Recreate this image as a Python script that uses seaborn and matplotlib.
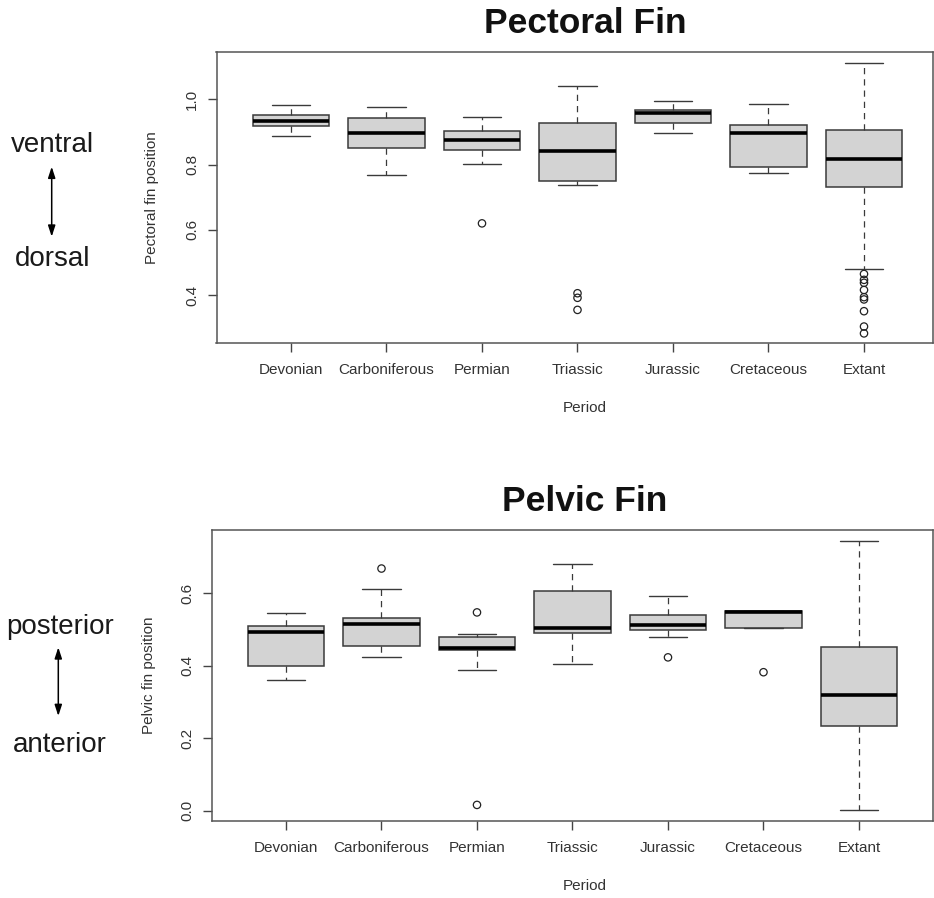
import matplotlib
matplotlib.use("Agg")
import matplotlib.pyplot as plt
import seaborn as sns
import pandas as pd

periods = ["Devonian", "Carboniferous", "Permian", "Triassic", "Jurassic", "Cretaceous", "Extant"]

# Pectoral fin: five-number summaries
pect_whislo = [0.888, 0.768, 0.803, 0.737, 0.897, 0.775, 0.479]
pect_q1 = [0.919, 0.850, 0.845, 0.750, 0.927, 0.792, 0.731]
pect_med = [0.934, 0.898, 0.874, 0.843, 0.957, 0.898, 0.817]
pect_q3 = [0.952, 0.944, 0.903, 0.926, 0.967, 0.920, 0.905]
pect_whishi = [0.982, 0.975, 0.947, 1.042, 0.994, 0.986, 1.112]
pect_out_period = ["Permian", "Triassic", "Triassic", "Triassic",
                   "Extant", "Extant", "Extant", "Extant", "Extant",
                   "Extant", "Extant", "Extant", "Extant"]
pect_out_value = [0.620, 0.406, 0.392, 0.355,
                  0.465, 0.447, 0.438, 0.416, 0.394, 0.387, 0.351, 0.304, 0.283]

# Pelvic fin
pelv_whislo = [0.361, 0.424, 0.387, 0.404, 0.478, 0.505, 0.001]
pelv_q1 = [0.400, 0.454, 0.443, 0.491, 0.498, 0.505, 0.235]
pelv_med = [0.494, 0.516, 0.449, 0.504, 0.511, 0.548, 0.318]
pelv_q3 = [0.510, 0.532, 0.480, 0.606, 0.539, 0.551, 0.452]
pelv_whishi = [0.545, 0.612, 0.488, 0.680, 0.592, 0.551, 0.745]
pelv_out_period = ["Carboniferous", "Permian", "Permian", "Jurassic", "Cretaceous"]
pelv_out_value = [0.668, 0.547, 0.016, 0.423, 0.382]

sns.set_theme(style="white")
plt.rcParams["font.family"] = ["Liberation Sans", "DejaVu Sans"]

W, H = 934, 898
fig = plt.figure(figsize=(W / 100, H / 100), dpi=100)


def px_axes(left, top, right, bottom):
    return fig.add_axes([left / W, 1 - bottom / H, (right - left) / W, (bottom - top) / H])


def draw_panel(ax, whislo, q1, med, q3, whishi, out_period, out_value, xlim, ylim, yticks, ylabel, labx):
    stats = []
    for i in range(len(periods)):
        stats.append(dict(whislo=whislo[i], q1=q1[i], med=med[i], q3=q3[i],
                          whishi=whishi[i], fliers=[], label=periods[i]))
    ax.bxp(stats, positions=range(len(periods)), widths=0.8, capwidths=0.4,
           patch_artist=True, showfliers=False,
           boxprops=dict(facecolor="#d3d3d3", edgecolor="#3a3a3a", linewidth=1.1),
           medianprops=dict(color="black", linewidth=2.6, solid_capstyle="butt"),
           whiskerprops=dict(color="#3a3a3a", linewidth=0.9, linestyle=(0, (5, 4))),
           capprops=dict(color="#3a3a3a", linewidth=1.0))
    # outliers as open circles
    outliers = pd.DataFrame({"pos": [periods.index(p) for p in out_period], "value": out_value})
    sns.scatterplot(data=outliers, x="pos", y="value", ax=ax, marker="o", s=28,
                    facecolor="none", edgecolor="#222222", linewidth=0.9, legend=False, zorder=3)
    ax.set_xlim(*xlim)
    ax.set_ylim(*ylim)
    ax.set_xticks(range(len(periods)))
    ax.set_xticklabels(periods)
    ax.set_yticks(yticks)
    ax.set_yticklabels([f"{t:.1f}" for t in yticks])
    for lab in ax.get_yticklabels():
        lab.set_rotation(90)
        lab.set_va("center")
    ax.tick_params(axis="both", direction="out", length=6.5, width=1, color="#444444",
                   labelsize=11, labelcolor="#333333", pad=6, bottom=True, left=True)
    ax.tick_params(axis="x", pad=8)
    ax.set_xlabel("")
    ax.set_ylabel(ylabel, fontsize=11, color="#333333")
    ax.yaxis.set_label_coords(labx, 0.5)
    for s in ax.spines.values():
        s.set_color("#555555")
        s.set_linewidth(1.1)
    ax.grid(False)


ax1 = px_axes(216.5, 51.7, 933, 343)
draw_panel(ax1, pect_whislo, pect_q1, pect_med, pect_q3, pect_whishi,
           pect_out_period, pect_out_value, (-0.78, 6.7225), (0.2536, 1.1458),
           [0.4, 0.6, 0.8, 1.0], "Pectoral fin position", -0.080)

ax2 = px_axes(211.5, 530, 933, 821)
draw_panel(ax2, pelv_whislo, pelv_q1, pelv_med, pelv_q3, pelv_whishi,
           pelv_out_period, pelv_out_value, (-0.78, 6.775), (-0.0284, 0.7743),
           [0.0, 0.2, 0.4, 0.6], "Pelvic fin position", -0.0776)

# overlay in pixel coordinates for titles and side annotations
ov = fig.add_axes([0, 0, 1, 1], zorder=-1)
ov.set_xlim(0, W)
ov.set_ylim(H, 0)
ov.axis("off")

ov.text(585, 33, "Pectoral Fin", fontsize=25.5, fontweight="bold", ha="center", va="baseline", color="#111111")
ov.text(585, 511, "Pelvic Fin", fontsize=25.5, fontweight="bold", ha="center", va="baseline", color="#111111")
ov.text(585, 408, "Period", fontsize=11, ha="center", va="center", color="#333333")
ov.text(585, 886, "Period", fontsize=11, ha="center", va="center", color="#333333")

ov.text(52.5, 152, "ventral", fontsize=20, ha="center", va="baseline", color="#1a1a1a")
ov.text(52.8, 266.5, "dorsal", fontsize=20, ha="center", va="baseline", color="#1a1a1a")
ov.text(60, 634, "posterior", fontsize=20, ha="center", va="baseline", color="#1a1a1a")
ov.text(60, 751.5, "anterior", fontsize=20, ha="center", va="baseline", color="#1a1a1a")

arrow = dict(arrowstyle="<|-|>,head_length=0.55,head_width=0.18", color="black", lw=1.1,
             shrinkA=0, shrinkB=0, mutation_scale=12)
ov.annotate("", xy=(51.7, 166.7), xytext=(51.7, 236.7), arrowprops=arrow)
ov.annotate("", xy=(58.3, 647.3), xytext=(58.3, 716), arrowprops=arrow)

fig.savefig("out.png", dpi=100)
